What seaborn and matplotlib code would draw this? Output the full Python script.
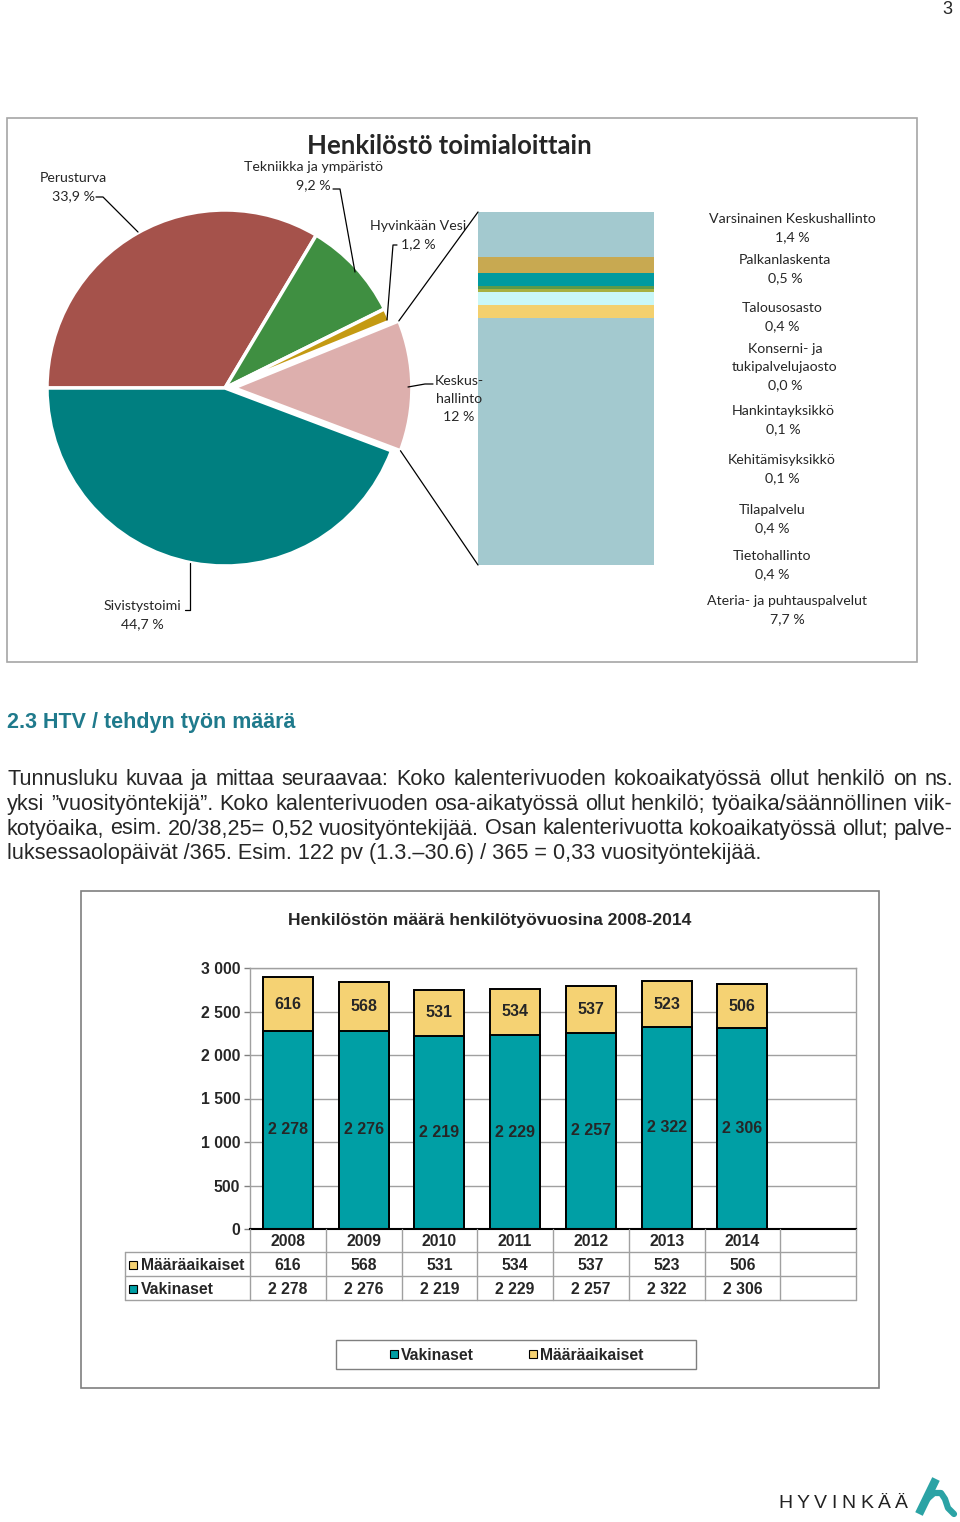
import matplotlib
matplotlib.use("Agg")
import matplotlib.pyplot as plt
import matplotlib.transforms as mtransforms
from matplotlib.patches import Rectangle, ConnectionPatch
from matplotlib.lines import Line2D
import numpy as np
import pandas as pd
import seaborn as sns

# ---------------- data ----------------
pie_labels = ["Perusturva", "Tekniikka ja ympäristö", "Hyvinkään Vesi",
              "Keskus-\nhallinto", "Sivistystoimi"]
pie_values = [33.9, 9.2, 1.2, 12.0, 44.7]
pie_texts = ["33,9 %", "9,2 %", "1,2 %", "12 %", "44,7 %"]

sub_labels = ["Varsinainen Keskushallinto", "Palkanlaskenta", "Talousosasto",
              "Konserni- ja\ntukipalvelujaosto", "Hankintayksikkö",
              "Kehitämisyksikkö", "Tilapalvelu", "Tietohallinto",
              "Ateria- ja puhtauspalvelut"]
sub_values = [1.4, 0.5, 0.4, 0.0, 0.1, 0.1, 0.4, 0.4, 7.7]
sub_texts = ["1,4 %", "0,5 %", "0,4 %", "0,0 %", "0,1 %", "0,1 %",
             "0,4 %", "0,4 %", "7,7 %"]

years = ["2008", "2009", "2010", "2011", "2012", "2013", "2014"]
vakinaset = [2278, 2276, 2219, 2229, 2257, 2322, 2306]
maaraaikaiset = [616, 568, 531, 534, 537, 523, 506]
y_ticks = [0, 500, 1000, 1500, 2000, 2500, 3000]

paragraph = [
    "Tunnusluku kuvaa ja mittaa seuraavaa: Koko kalenterivuoden kokoaikatyössä ollut henkilö on ns.",
    "yksi ”vuosityöntekijä”. Koko kalenterivuoden osa-aikatyössä ollut henkilö; työaika/säännöllinen viik-",
    "kotyöaika, esim. 20/38,25= 0,52 vuosityöntekijää. Osan kalenterivuotta kokoaikatyössä ollut; palve-",
    "luksessaolopäivät /365. Esim. 122 pv (1.3.–30.6) / 365 = 0,33 vuosityöntekijää.",
]

# ---------------- styles / layout ----------------
W, H = 960, 1522
PIE_COLORS = ["#A5524B", "#3F8F41", "#C49A12", "#DDAFAD", "#007F80"]
SUB_COLORS = ["#A3C9CF", "#C8A951", "#009AA0", "#7FB24A", "#5C9A4A",
              "#A8B040", "#C9F7F7", "#F3D06E", "#A3C9CF"]
TEAL = "#009FA5"
YELLOW = "#F5D273"
TOP_FONT = ["Lato", "DejaVu Sans"]
BODY_FONT = ["Liberation Sans", "DejaVu Sans"]
TOP_FS = 10.2
PARA_FS = 15.6
LBL_LS = 1.62

sns.set_theme(style="white")
plt.rcParams["font.family"] = BODY_FONT

fig = plt.figure(figsize=(W / 100, H / 100), dpi=100)
fig.patch.set_facecolor("white")

pxT = mtransforms.Affine2D().scale(1 / W, -1 / H).translate(0, 1) + fig.transFigure


def add_axes_px(x0, y0, x1, y1):
    return fig.add_axes([x0 / W, 1 - y1 / H, (x1 - x0) / W, (y1 - y0) / H])


def ftext(x, y, s, **kw):
    return fig.text(x / W, 1 - y / H, s, **kw)


def fline(xs, ys, **kw):
    fig.add_artist(Line2D([x / W for x in xs], [1 - y / H for y in ys], **kw))


def frect(x0, y0, x1, y1, **kw):
    fig.add_artist(Rectangle((x0 / W, 1 - y1 / H), (x1 - x0) / W, (y1 - y0) / H,
                             transform=fig.transFigure, **kw))


renderer = fig.canvas.get_renderer()

# page number
ftext(947, 10, "3", fontsize=13, ha="center", va="center", family=BODY_FONT)

# ---------------- top chart ----------------
frect(7, 118, 917, 662, facecolor="none", edgecolor="#A6A6A6", linewidth=1.2)
ftext(449, 146, "Henkilöstö toimialoittain", fontsize=18.5, fontweight="bold",
      ha="center", va="center", family=TOP_FONT)

ax_pie = add_axes_px(47, 210, 403, 566)
wedges, _ = ax_pie.pie(pie_values, startangle=180, counterclock=False,
                       colors=PIE_COLORS, explode=[0, 0, 0, 0.05, 0],
                       wedgeprops=dict(edgecolor="white", linewidth=2.5))
for w in wedges:
    w.set_clip_on(False)
ax_pie.set_xlim(-1, 1)
ax_pie.set_ylim(-1, 1)
ax_pie.set_aspect("equal")
ax_pie.axis("off")

# breakdown column (pie of pie)
ax_bar = add_axes_px(478, 212, 654, 565)
bottom = 0.0
for v, c in zip(sub_values[::-1], SUB_COLORS[::-1]):
    ax_bar.bar(0, v, bottom=bottom, width=1, align="edge", color=c, linewidth=0)
    bottom += v
ax_bar.set_xlim(0, 1)
ax_bar.set_ylim(0, sum(sub_values))
ax_bar.axis("off")

# connectors from exploded slice to column
kw_w = wedges[3]
cx, cy = kw_w.center
for ang, ytarget in [(kw_w.theta2, sum(sub_values)), (kw_w.theta1, 0)]:
    px_ = cx + kw_w.r * np.cos(np.radians(ang))
    py_ = cy + kw_w.r * np.sin(np.radians(ang))
    con = ConnectionPatch(xyA=(px_, py_), coordsA=ax_pie.transData,
                          xyB=(0, ytarget), coordsB=ax_bar.transData,
                          color="black", linewidth=0.9)
    fig.add_artist(con)

# pie labels (layout)
pie_label_pos = [(73, 187), (313, 176), (418, 235), (459, 399), (142, 615)]
for lab, txt, (x, y) in zip(pie_labels, pie_texts, pie_label_pos):
    ftext(x, y, lab + "\n" + txt, fontsize=TOP_FS, ha="center", va="center",
          family=TOP_FONT, linespacing=LBL_LS)
leaders = [
    ([96, 103, 138], [197, 197, 232]),
    ([333, 340, 355], [189, 189, 272]),
    ([397, 393, 387], [245, 245, 320]),
    ([408, 425, 433], [387, 384, 384]),
    ([185, 190, 190], [610, 610, 563]),
]
for xs, ys in leaders:
    fline(xs, ys, color="black", linewidth=0.9)

sub_label_y = [228, 269, 317, 367, 420, 469, 519, 565, 610]
sub_label_x = [792, 785, 782, 785, 783, 782, 772, 772, 787]
for lab, txt, x, y in zip(sub_labels, sub_texts, sub_label_x, sub_label_y):
    ftext(x, y, lab + "\n" + txt, fontsize=TOP_FS, ha="center", va="center",
          family=TOP_FONT, linespacing=LBL_LS)

# ---------------- text section ----------------
ftext(7, 723, "2.3 HTV / tehdyn työn määrä", fontsize=15.5, fontweight="bold",
      color="#1F7A8C", ha="left", va="center", family=BODY_FONT)

para_y = [779, 804, 829, 854]
for i, (line, y) in enumerate(zip(paragraph, para_y)):
    words = line.split(" ")
    if i < len(paragraph) - 1:
        ts = [ftext(0, y, w_, fontsize=PARA_FS, ha="left", va="center", family=BODY_FONT)
              for w_ in words]
        widths = [t.get_window_extent(renderer).width for t in ts]
        gap = (946 - sum(widths)) / (len(words) - 1)
        x = 7
        for t, wd in zip(ts, widths):
            t.set_position((x / W, 1 - y / H))
            x += wd + gap
    else:
        ftext(7, y, line, fontsize=PARA_FS, ha="left", va="center", family=BODY_FONT)

# ---------------- bottom chart ----------------
frect(81, 891, 879, 1388, facecolor="none", edgecolor="#7F7F7F", linewidth=1.2)
ftext(490, 921, "Henkilöstön määrä henkilötyövuosina 2008-2014", fontsize=12.6,
      fontweight="bold", ha="center", va="center", family=BODY_FONT)

ax2 = add_axes_px(250, 968, 856, 1229)
df = pd.DataFrame({"year": years,
                   "total": np.array(vakinaset) + np.array(maaraaikaiset),
                   "vak": vakinaset})
sns.barplot(data=df, x="year", y="total", color=YELLOW, saturation=1, width=0.66,
            edgecolor="black", linewidth=1.4, errorbar=None, ax=ax2)
sns.barplot(data=df, x="year", y="vak", color=TEAL, saturation=1, width=0.66,
            edgecolor="black", linewidth=1.4, errorbar=None, ax=ax2)
ax2.set_xlim(-0.5, 7.5)
ax2.set_ylim(0, 3000)
ax2.set_xlabel("")
ax2.set_ylabel("")
ax2.set_xticks([])
ax2.set_yticks(y_ticks)
ax2.set_yticklabels([f"{v:,}".replace(",", " ") for v in y_ticks],
                    fontweight="bold", fontsize=11.3, family=BODY_FONT)
ax2.tick_params(axis="y", left=True, length=4, width=1, color="#808080", pad=3)
ax2.yaxis.grid(True, color="#A0A0A0", linewidth=1)
ax2.set_axisbelow(True)
for s in ["left", "right", "top"]:
    ax2.spines[s].set_visible(True)
    ax2.spines[s].set_color("#A0A0A0")
    ax2.spines[s].set_linewidth(1)
ax2.spines["bottom"].set_color("black")
ax2.spines["bottom"].set_linewidth(1.5)

fmt = lambda v: f"{v:,}".replace(",", " ")
for i, (v, m) in enumerate(zip(vakinaset, maaraaikaiset)):
    ax2.text(i, v / 2, fmt(v), ha="center", va="center", fontsize=11.5,
             fontweight="bold")
    ax2.text(i, v + m / 2, fmt(m), ha="center", va="center", fontsize=11.5,
             fontweight="bold")

# data table under the axis
blend = mtransforms.blended_transform_factory(ax2.transData, pxT)
tbl_y = [1229, 1252, 1276, 1300]
grid_kw = dict(color="#A0A0A0", linewidth=1, clip_on=False)
n_slots = 8
for k in range(n_slots + 1):
    fig.add_artist(Line2D([k - 0.5, k - 0.5], [1229, 1300], transform=blend, **grid_kw))
for y in tbl_y[1:]:
    fig.add_artist(Line2D([-0.5, n_slots - 0.5], [y, y], transform=blend, **grid_kw))
    fline([125, 250], [y, y], **grid_kw)
fline([125, 125], [1252, 1300], **grid_kw)

for i, yr in enumerate(years):
    fig.text(i, 1241, yr, transform=blend, ha="center", va="center",
             fontsize=11.3, fontweight="bold")
    fig.text(i, 1265, fmt(maaraaikaiset[i]), transform=blend, ha="center",
             va="center", fontsize=11.3, fontweight="bold")
    fig.text(i, 1289, fmt(vakinaset[i]), transform=blend, ha="center",
             va="center", fontsize=11.3, fontweight="bold")

for name, col, y in [("Määräaikaiset", YELLOW, 1265), ("Vakinaset", TEAL, 1289)]:
    frect(129, y - 4, 137, y + 4, facecolor=col, edgecolor="black", linewidth=0.8)
    ftext(141, y, name, ha="left", va="center", fontsize=11.3, fontweight="bold")

# legend
frect(336, 1340, 696, 1369, facecolor="white", edgecolor="#7F7F7F", linewidth=1)
for name, col, x in [("Vakinaset", TEAL, 390), ("Määräaikaiset", YELLOW, 529)]:
    frect(x, 1350, x + 8, 1358, facecolor=col, edgecolor="black", linewidth=0.8)
    ftext(x + 11, 1355, name, ha="left", va="center", fontsize=11.3, fontweight="bold")

# ---------------- logo ----------------
logo_chars = [ftext(0, 1503, ch, ha="left", va="center", fontsize=14,
                    family=BODY_FONT, color="#222222") for ch in "HYVINKÄÄ"]
cw = [t.get_window_extent(renderer).width for t in logo_chars]
lgap = (130 - sum(cw)) / (len(cw) - 1)
lx = 778
for t, wd in zip(logo_chars, cw):
    t.set_position((lx / W, 1 - 1503 / H))
    lx += wd + lgap
fline([919, 936], [1514, 1479], color="#2BA3A5", linewidth=6, solid_capstyle="butt")
fline([926, 934, 941, 945, 948, 954], [1500, 1493, 1493, 1499, 1508, 1514],
      color="#2BA3A5", linewidth=4.5, solid_capstyle="round")

fig.savefig("out.png", dpi=100, facecolor="white")
